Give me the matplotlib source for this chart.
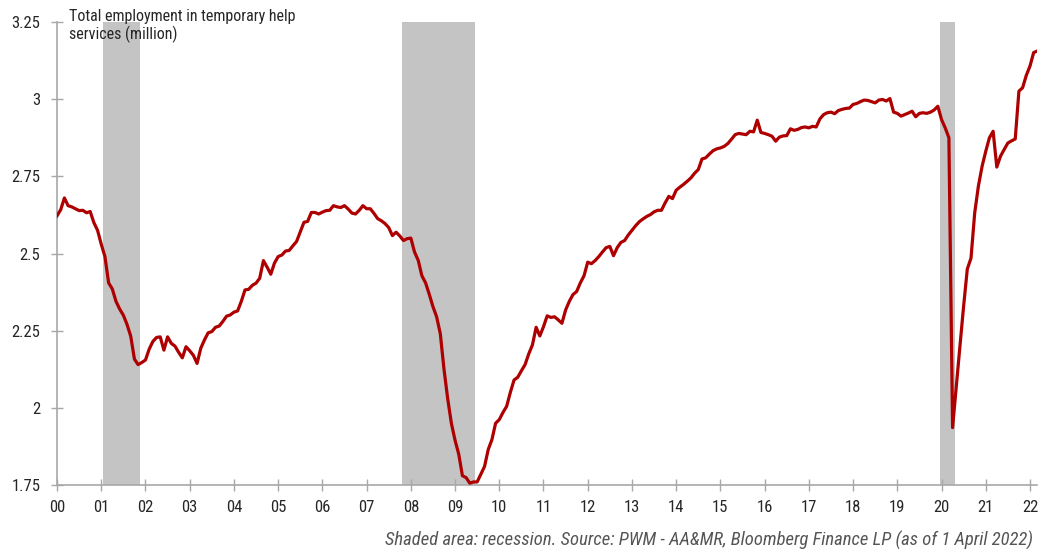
import numpy as np
import matplotlib
matplotlib.use('Agg')
import matplotlib.pyplot as plt

plt.rcParams['font.family'] = ['Roboto Condensed', 'DejaVu Sans']

# Temporary help services employment (million), monthly, Jan 2000 - Mar 2022
temp_help = [
    # 2000
    2.622, 2.642, 2.680, 2.655, 2.651, 2.645, 2.639, 2.640, 2.632, 2.636, 2.600, 2.575,
    # 2001
    2.530, 2.490, 2.405, 2.385, 2.345, 2.320, 2.300, 2.270, 2.232, 2.158, 2.140, 2.147,
    # 2002
    2.155, 2.190, 2.215, 2.228, 2.230, 2.187, 2.230, 2.209, 2.200, 2.180, 2.162, 2.198,
    # 2003
    2.185, 2.170, 2.144, 2.193, 2.220, 2.243, 2.247, 2.261, 2.265, 2.280, 2.297, 2.301,
    # 2004
    2.310, 2.314, 2.345, 2.382, 2.384, 2.397, 2.404, 2.420, 2.477, 2.456, 2.433, 2.469,
    # 2005
    2.490, 2.495, 2.508, 2.510, 2.525, 2.539, 2.570, 2.601, 2.604, 2.633, 2.633, 2.628,
    # 2006
    2.634, 2.639, 2.640, 2.655, 2.651, 2.649, 2.655, 2.644, 2.631, 2.628, 2.640, 2.655,
    # 2007
    2.645, 2.645, 2.630, 2.613, 2.606, 2.597, 2.584, 2.558, 2.569, 2.557, 2.542, 2.548,
    # 2008
    2.550, 2.505, 2.478, 2.428, 2.405, 2.368, 2.328, 2.295, 2.240, 2.125, 2.030, 1.950,
    # 2009
    1.895, 1.850, 1.780, 1.774, 1.756, 1.760, 1.760, 1.785, 1.810, 1.865, 1.897, 1.950,
    # 2010
    1.962, 1.985, 2.005, 2.050, 2.090, 2.099, 2.120, 2.140, 2.175, 2.204, 2.261, 2.233,
    # 2011
    2.263, 2.298, 2.293, 2.295, 2.285, 2.274, 2.317, 2.345, 2.367, 2.377, 2.405, 2.428,
    # 2012
    2.472, 2.467, 2.477, 2.490, 2.505, 2.519, 2.523, 2.493, 2.519, 2.536, 2.542, 2.560,
    # 2013
    2.575, 2.590, 2.603, 2.612, 2.620, 2.626, 2.635, 2.640, 2.640, 2.664, 2.685, 2.678,
    # 2014
    2.705, 2.715, 2.724, 2.734, 2.745, 2.760, 2.772, 2.806, 2.810, 2.822, 2.833, 2.839,
    # 2015
    2.842, 2.847, 2.856, 2.870, 2.885, 2.889, 2.887, 2.885, 2.896, 2.894, 2.932, 2.892,
    # 2016
    2.889, 2.885, 2.880, 2.864, 2.877, 2.881, 2.882, 2.904, 2.899, 2.902, 2.908, 2.910,
    # 2017
    2.907, 2.912, 2.910, 2.936, 2.950, 2.956, 2.958, 2.953, 2.963, 2.967, 2.970, 2.971,
    # 2018
    2.983, 2.986, 2.992, 2.997, 2.996, 2.992, 2.988, 2.997, 2.999, 2.994, 3.002, 2.958,
    # 2019
    2.954, 2.945, 2.950, 2.955, 2.961, 2.943, 2.954, 2.956, 2.954, 2.958, 2.965, 2.977,
    # 2020
    2.934, 2.907, 2.875, 1.936, 2.070, 2.200, 2.330, 2.450, 2.485, 2.631, 2.718, 2.782,
    # 2021
    2.831, 2.875, 2.896, 2.780, 2.815, 2.837, 2.858, 2.865, 2.871, 3.026, 3.037, 3.077,
    # 2022
    3.107, 3.151, 3.156,
]

# recession bands (decimal years, as shaded in the chart)
recession_start = [2001.05, 2007.79, 2019.96]
recession_end = [2001.87, 2009.46, 2020.30]

year_ticks = list(range(2000, 2023))
year_labels = [f'{y % 100:02d}' for y in year_ticks]
y_ticks = [1.75, 2, 2.25, 2.5, 2.75, 3, 3.25]
y_labels = ['1.75', '2', '2.25', '2.5', '2.75', '3', '3.25']

x = 2000 + np.arange(len(temp_help)) / 12.0

fig = plt.figure(figsize=(10.62, 5.54), dpi=100)
ax = fig.add_axes([0.0537, 0.1245, 0.9228, 0.8358])

for s, e in zip(recession_start, recession_end):
    ax.axvspan(s, e, color='#C4C4C4', lw=0, zorder=1)

ax.plot(x, temp_help, color='#AE0000', lw=2.3, zorder=3, solid_joinstyle='round')

ax.set_xlim(2000, 2022.16)
ax.set_ylim(1.75, 3.25)
ax.set_xticks(year_ticks)
ax.set_xticklabels(year_labels)
ax.set_yticks(y_ticks)
ax.set_yticklabels(y_labels)

for side in ['top', 'right']:
    ax.spines[side].set_visible(False)
for side in ['left', 'bottom']:
    ax.spines[side].set_color('#A8A8A8')
    ax.spines[side].set_linewidth(1.2)

ax.tick_params(axis='both', direction='inout', length=8, width=1.0, color='#A8A8A8',
               labelsize=12, labelcolor='#262626')
ax.tick_params(axis='y', pad=8)
ax.tick_params(axis='x', pad=7)

fig.text(69 / 1062, 1 - 9 / 554, 'Total employment in temporary help\nservices (million)',
         ha='left', va='top', fontsize=11.5, color='#262626', linespacing=1.15)

fig.text(1033 / 1062, 1 - 546 / 554,
         'Shaded area: recession. Source: PWM - AA&MR, Bloomberg Finance LP (as of 1 April 2022)',
         ha='right', va='baseline', fontsize=13.4, style='italic', color='#555555')

fig.savefig('out.png', dpi=100)
